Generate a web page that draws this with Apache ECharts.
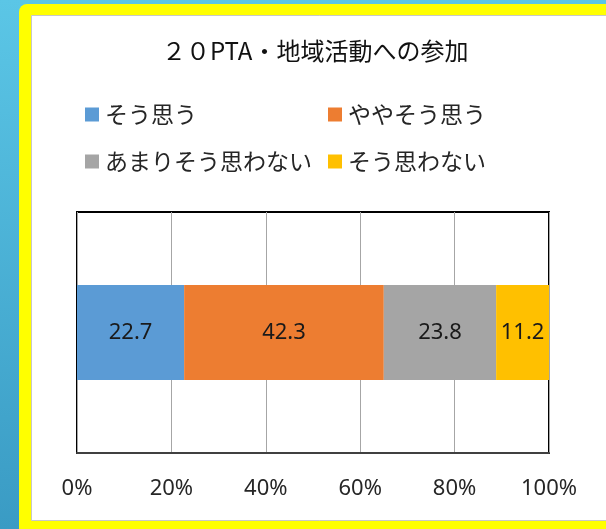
<!DOCTYPE html>
<html>
<head>
<meta charset="utf-8">
<script src="https://cdn.jsdelivr.net/npm/echarts@6/dist/echarts.min.js"></script>
<style>
html,body{margin:0;padding:0;background:#fff;}
#c{width:606px;height:529px;}
</style>
</head>
<body>
<div id="c"></div>
<script>
const titleText = '２０PTA・地域活動への参加';
const categories = ['PTA・地域活動への参加'];
const seriesNames = ['そう思う', 'ややそう思う', 'あまりそう思わない', 'そう思わない'];
const seriesValues = [22.7, 42.3, 23.8, 11.2];
const seriesColors = ['#5b9bd5', '#ed7d31', '#a5a5a5', '#ffc000'];
const xTicks = [0, 20, 40, 60, 80, 100];

const chart = echarts.init(document.getElementById('c'), null, {renderer: 'canvas'});

const jp = '"Noto Sans CJK JP", "Noto Sans", sans-serif';
const num = '"Noto Sans", "DejaVu Sans", sans-serif';

const legendPos = [
  {left: 85, top: 103},
  {left: 328, top: 103},
  {left: 85, top: 150},
  {left: 328, top: 150}
];

const option = {
  animation: false,
  backgroundColor: 'transparent',
  graphic: [
    {type: 'rect', z: -30, silent: true, shape: {x: 0, y: 0, width: 606, height: 529},
     style: {fill: new echarts.graphic.LinearGradient(0, 0, 0, 1, [
       {offset: 0, color: '#5bc6e6'}, {offset: 1, color: '#3a9bc4'}])}},
    {type: 'rect', z: -20, silent: true, shape: {x: 19, y: 4, width: 620, height: 560, r: 8},
     style: {fill: '#ffff00'}},
    {type: 'rect', z: -10, silent: true, shape: {x: 31.5, y: 15.5, width: 600, height: 505},
     style: {fill: '#ffffff', stroke: '#c8c8c8', lineWidth: 1}}
  ],
  title: {
    text: titleText,
    left: 162,
    top: 39,
    padding: 0,
    textStyle: {fontFamily: jp, fontSize: 24, fontWeight: 'normal', color: '#111'}
  },
  legend: seriesNames.map((n, i) => ({
    data: [n],
    left: legendPos[i].left,
    top: legendPos[i].top,
    padding: 0,
    icon: 'rect',
    itemWidth: 14,
    itemHeight: 14,
    selectedMode: false,
    textStyle: {fontFamily: jp, fontSize: 23, color: '#262626', padding: [0, 0, 0, 1]}
  })),
  grid: {
    left: 77, right: 57, top: 212, bottom: 76,
    show: true, borderColor: '#000', borderWidth: 2, backgroundColor: 'transparent',
    containLabel: false
  },
  xAxis: {
    type: 'value',
    min: xTicks[0],
    max: xTicks[xTicks.length - 1],
    interval: xTicks[1] - xTicks[0],
    axisLine: {show: true, lineStyle: {color: '#404040', width: 2}},
    axisTick: {show: false},
    splitLine: {show: true, lineStyle: {color: '#a6a6a6', width: 1}},
    axisLabel: {
      formatter: v => v + '%',
      margin: 25,
      fontFamily: num, fontSize: 22, color: '#262626'
    }
  },
  yAxis: {
    type: 'category',
    data: categories,
    axisLine: {show: false},
    axisTick: {show: false},
    axisLabel: {show: false},
    splitLine: {show: false}
  },
  series: seriesNames.map((n, i) => ({
    name: n,
    type: 'bar',
    stack: 'total',
    barWidth: 95,
    itemStyle: {color: seriesColors[i]},
    label: {
      show: true,
      position: 'inside',
      formatter: p => p.value.toFixed(1),
      fontFamily: num, fontSize: 22, color: '#1a1a1a'
    },
    data: [seriesValues[i]]
  }))
};
chart.setOption(option);
</script>
</body>
</html>
